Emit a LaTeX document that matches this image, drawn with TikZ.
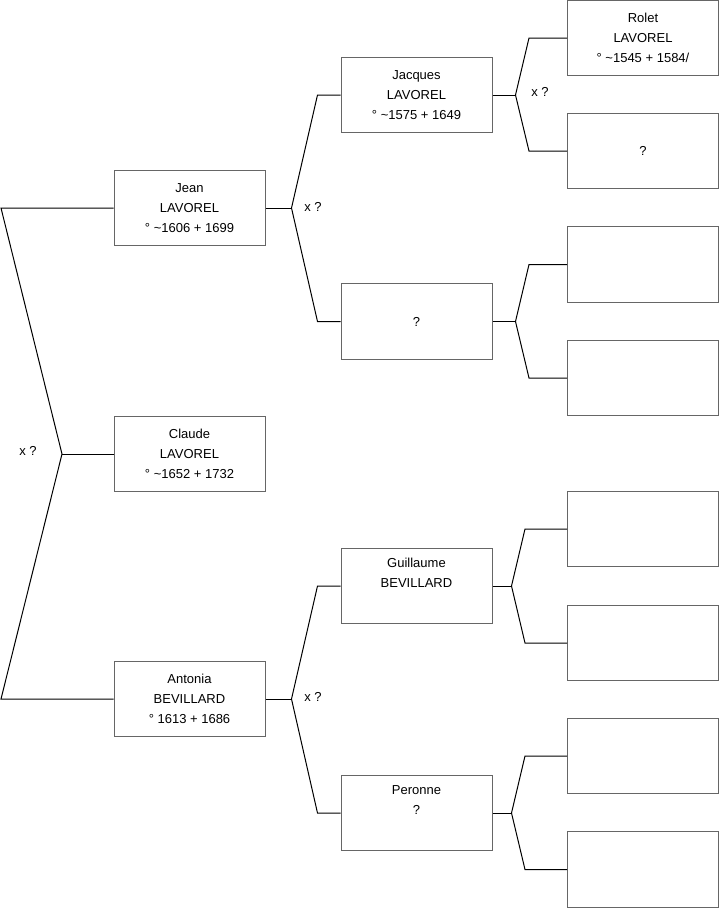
\documentclass[tikz,border=0pt]{standalone}
\usepackage{fontspec}
\setmainfont{Liberation Sans}
\usetikzlibrary{calc}

\begin{document}
\begin{tikzpicture}[x=0.75pt, y=-0.75pt,
  personne/.style={draw=black!60, line width=0.75pt, minimum width=113.25pt,
    minimum height=56.5pt, align=center, inner sep=0pt,
    font=\fontsize{9.75}{15}\selectfont},
  lien/.style={line width=0.75pt},
  union/.style={anchor=west, inner sep=0pt, font=\fontsize{9.75}{11}\selectfont}]

\useasboundingbox (0,0) rectangle (719,908);

% Claude et ses parents
\node[personne] (claude) at (189.5,454) {Claude\\LAVOREL\\° \textasciitilde1652 + 1732};
\node[personne] (jean) at (189.5,208) {Jean\\LAVOREL\\° \textasciitilde1606 + 1699};
\node[personne] (antonia) at (189.5,699) {Antonia\\BEVILLARD\\° 1613 + 1686};

% Grands-parents
\node[personne] (jacques) at (416.5,95) {Jacques\\LAVOREL\\° \textasciitilde1575 + 1649};
\node[personne] (inconnu1) at (416.5,321.5) {?};
\node[personne] (guillaume) at (416.5,586) {Guillaume\\BEVILLARD\\\strut};
\node[personne] (peronne) at (416.5,813) {Peronne\\?\\\strut};

% Arrière-grands-parents
\node[personne] (rolet) at (643,38) {Rolet\\LAVOREL\\° \textasciitilde1545 + 1584/};
\node[personne] (inconnu2) at (643,151) {?};
\foreach \n/\y in {a/264.5, b/378, c/529, d/643, e/756, f/869.5}
{
    \node[personne] (vide\n) at (643,\y) {};
}

% Union des parents
\coordinate (u0) at (62,454);
\coordinate (g1) at (1,208);
\coordinate (g2) at (1,699);
\draw[lien] (jean.west) -- (g1) -- (u0) -- (g2) -- (antonia.west);
\draw[lien] (u0) -- (claude.west);

% Unions suivantes
\foreach \p/\h/\b/\dj/\db in {jean/jacques/inconnu1/26/23,
    antonia/guillaume/peronne/26/23,
    jacques/rolet/inconnu2/23/38,
    inconnu1/videa/videb/23/38,
    guillaume/videc/vided/19/42,
    peronne/videe/videf/19/42}
{
    \coordinate (u\p) at ($(\p.east)+(\dj,0)$);
    \draw[lien] (\p.east) -- (u\p);
    \draw[lien] (\h.west) -- ++(-\db,0) -- (u\p)
        -- ($(\b.west)+(-\db,0)$) -- (\b.west);
}

\node[union] (x0) at (19,451) {x ?};
\node[union] (x1) at (304,207) {x ?};
\node[union] (x2) at (304,697) {x ?};
\node[union] (x3) at (531,92) {x ?};

\end{tikzpicture}
\end{document}
